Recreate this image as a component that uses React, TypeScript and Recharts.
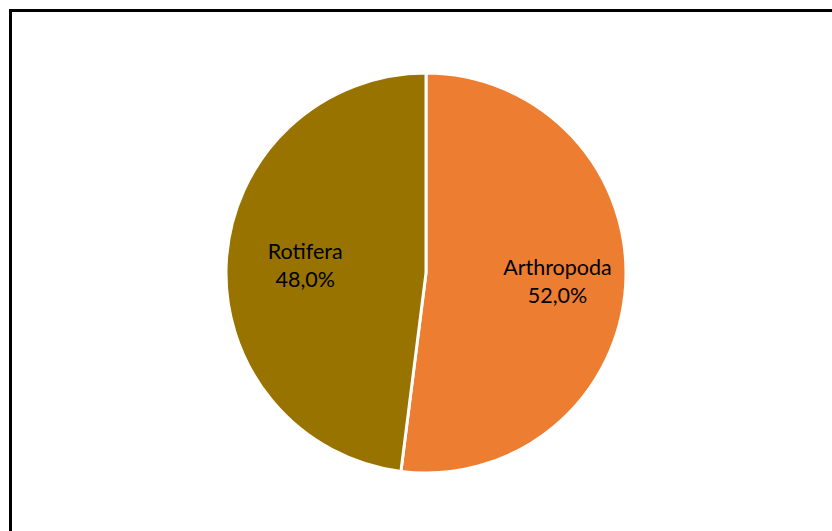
import React from 'react';
import { PieChart, Pie, Cell } from 'recharts';

const categories = ['Arthropoda', 'Rotifera'];
const shares = [52.0, 48.0];
const colors = ['#ED7D31', '#997300'];

const data = categories.map((name, i) => ({ name, value: shares[i] }));

const RADIAN = Math.PI / 180;
const FONT_SIZE = 21.5;

const renderLabel = (props: any) => {
  const { cx, cy, midAngle, outerRadius, name, value } = props;
  // keep the inner edge of the label box at a fixed distance from the centre
  const r = outerRadius * 0.39 + name.length * FONT_SIZE * 0.25;
  const x = cx + r * Math.cos(-midAngle * RADIAN);
  const y = cy + r * Math.sin(-midAngle * RADIAN);
  return (
    <text
      x={x}
      y={y}
      textAnchor="middle"
      fill="#000000"
      fontSize={FONT_SIZE}
      fontFamily="Lato, 'Open Sans', sans-serif"
    >
      <tspan x={x} dy={-6}>{name}</tspan>
      <tspan x={x} dy={28}>{value.toFixed(1).replace('.', ',')}%</tspan>
    </text>
  );
};

export default function App() {
  return (
    <div
      style={{
        position: 'absolute',
        left: 0,
        top: 0,
        width: 832,
        height: 531,
        overflow: 'hidden',
        background: '#ffffff',
      }}
    >
      <div
        style={{
          position: 'absolute',
          left: 9,
          top: 9,
          width: 840,
          height: 540,
          borderLeft: '3px solid #000',
          borderTop: '3px solid #000',
        }}
      />
      <PieChart
        width={832}
        height={531}
        margin={{ top: 0, right: 0, bottom: 0, left: 0 }}
        style={{ position: 'absolute', left: 0, top: 0 }}
      >
        <Pie
          data={data}
          dataKey="value"
          nameKey="name"
          cx={426}
          cy={273}
          outerRadius={200}
          startAngle={90}
          endAngle={-270}
          stroke="#ffffff"
          strokeWidth={3}
          label={renderLabel}
          labelLine={false}
          isAnimationActive={false}
        >
          {data.map((entry, i) => (
            <Cell key={`cell-${i}`} fill={colors[i]} />
          ))}
        </Pie>
      </PieChart>
    </div>
  );
}
